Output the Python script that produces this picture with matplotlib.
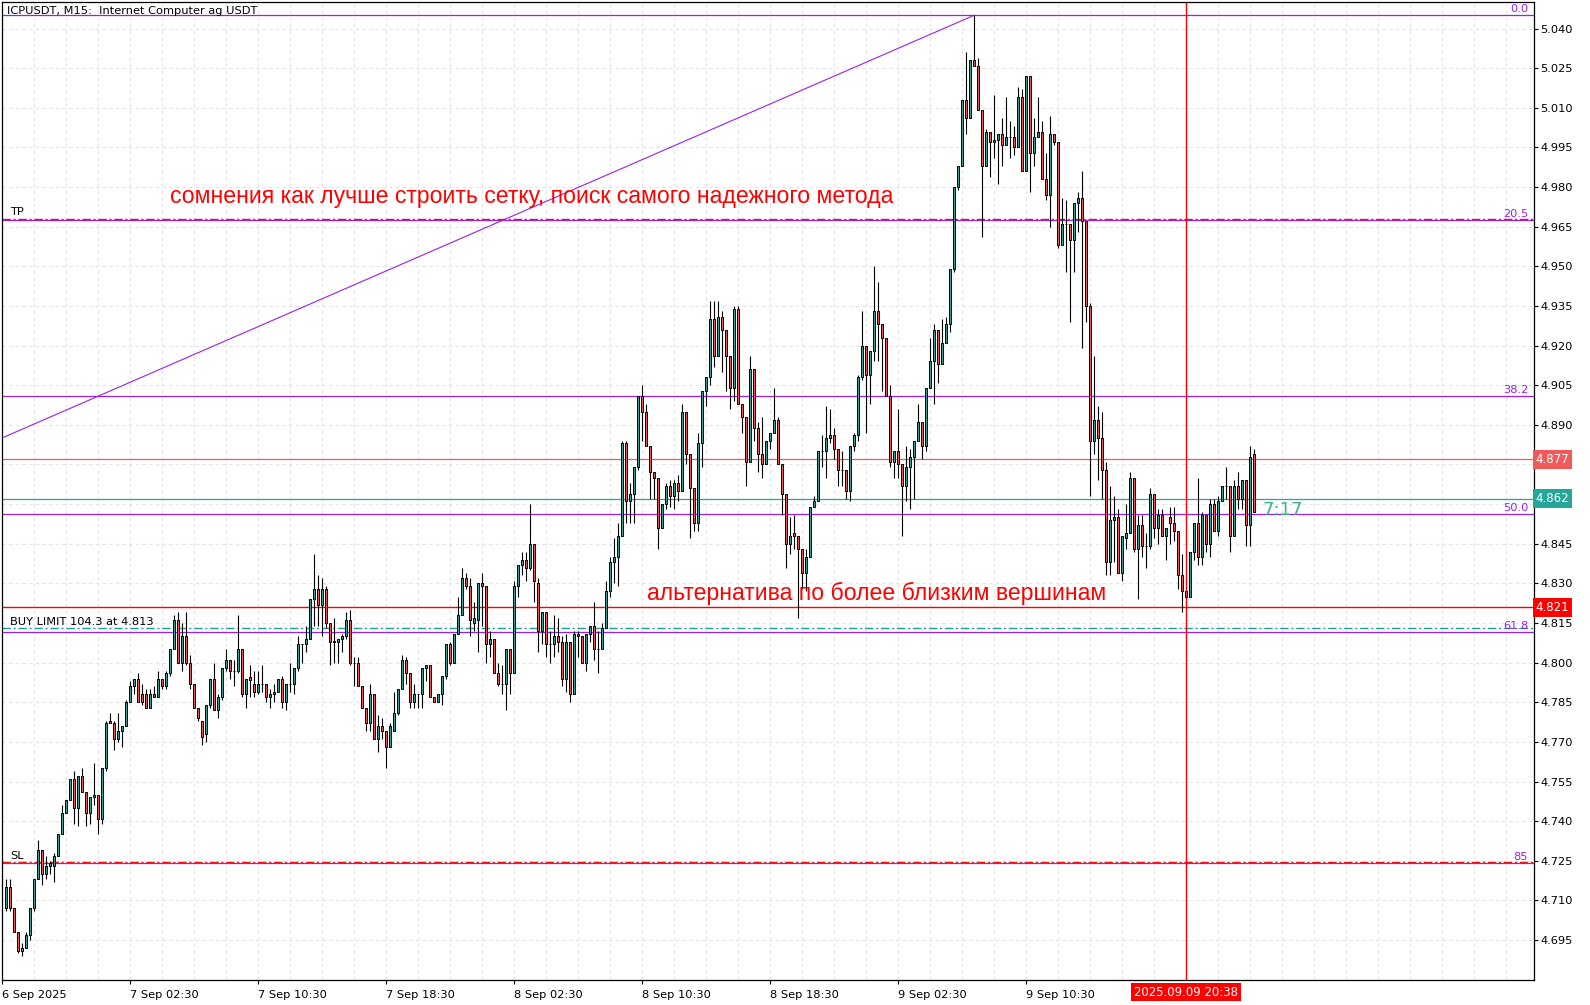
import matplotlib
matplotlib.use('Agg')
import matplotlib.pyplot as plt
import matplotlib.transforms as mtransforms
import numpy as np

# ---------------- data (M15 candles) ----------------
opens = [4.707, 4.715, 4.707, 4.698, 4.691, 4.692, 4.697, 4.707, 4.718, 4.729,
         4.720, 4.723, 4.723, 4.727, 4.735, 4.743, 4.748, 4.756, 4.745, 4.757,
         4.751, 4.743, 4.749, 4.750, 4.741, 4.760, 4.778, 4.777, 4.771, 4.774,
         4.776, 4.785, 4.791, 4.794, 4.788, 4.788, 4.783, 4.788, 4.787, 4.794,
         4.791, 4.796, 4.805, 4.816, 4.800, 4.810, 4.800, 4.792, 4.783, 4.778,
         4.773, 4.784, 4.794, 4.782, 4.787, 4.798, 4.801, 4.797, 4.797, 4.805,
         4.788, 4.7945, 4.792, 4.789, 4.792, 4.792, 4.787, 4.788, 4.789, 4.794,
         4.785, 4.792, 4.792, 4.798, 4.807, 4.807, 4.809, 4.824, 4.828, 4.822,
         4.828, 4.815, 4.808, 4.808, 4.809, 4.810, 4.816, 4.800, 4.800, 4.791,
         4.783, 4.777, 4.788, 4.771, 4.776, 4.774, 4.768, 4.774, 4.781, 4.790,
         4.801, 4.796, 4.785, 4.788, 4.788, 4.798, 4.799, 4.787, 4.785, 4.788,
         4.795, 4.807, 4.800, 4.811, 4.818, 4.832, 4.829, 4.815, 4.816, 4.830,
         4.829, 4.807, 4.809, 4.796, 4.792, 4.792, 4.805, 4.796, 4.829, 4.837,
         4.839, 4.836, 4.845, 4.830, 4.812, 4.819, 4.807, 4.807, 4.810, 4.808,
         4.794, 4.808, 4.788, 4.811, 4.810, 4.800, 4.811, 4.814, 4.805, 4.805,
         4.813, 4.827, 4.838, 4.840, 4.848, 4.883, 4.861, 4.864, 4.874, 4.901,
         4.895, 4.882, 4.872, 4.870, 4.851, 4.860, 4.867, 4.863, 4.868, 4.865,
         4.895, 4.879, 4.866, 4.853, 4.883, 4.903, 4.908, 4.930, 4.916, 4.931,
         4.926, 4.916, 4.904, 4.934, 4.898, 4.893, 4.876, 4.911, 4.889, 4.879,
         4.875, 4.884, 4.887, 4.892, 4.875, 4.864, 4.845, 4.849, 4.848, 4.843,
         4.834, 4.840, 4.859, 4.861, 4.880, 4.880, 4.885, 4.886, 4.881, 4.873,
         4.873, 4.865, 4.882, 4.886, 4.908, 4.920, 4.909, 4.918, 4.933, 4.928,
         4.923, 4.901, 4.876, 4.880, 4.875, 4.867, 4.874, 4.878, 4.884, 4.891,
         4.882, 4.904, 4.914, 4.926, 4.913, 4.921, 4.928, 4.949, 4.980, 4.988,
         5.013, 5.006, 5.028, 5.026, 5.009, 4.988, 5.001, 4.997, 4.998, 5.000,
         4.996, 4.999, 4.999, 4.995, 5.014, 4.986, 5.022, 4.993, 4.999, 5.001,
         4.983, 4.977, 5.000, 4.997, 4.958, 4.966, 4.966, 4.960, 4.974, 4.976,
         4.967, 4.935, 4.884, 4.892, 4.885, 4.873, 4.838, 4.854, 4.855, 4.834,
         4.847, 4.849, 4.870, 4.843, 4.852, 4.844, 4.844, 4.864, 4.851, 4.856,
         4.848, 4.855, 4.853, 4.850, 4.833, 4.827, 4.825, 4.842, 4.853, 4.840,
         4.856, 4.845, 4.860, 4.850, 4.861, 4.867, 4.867, 4.848, 4.867, 4.862,
         4.869, 4.852, 4.879]
highs = [4.718, 4.718, 4.707, 4.698, 4.694, 4.698, 4.707, 4.718, 4.733, 4.729,
         4.727, 4.725, 4.728, 4.735, 4.746, 4.748, 4.756, 4.759, 4.757, 4.760,
         4.751, 4.749, 4.762, 4.750, 4.760, 4.778, 4.781, 4.778, 4.781, 4.776,
         4.786, 4.793, 4.794, 4.796, 4.792, 4.790, 4.790, 4.791, 4.797, 4.794,
         4.797, 4.805, 4.818, 4.819, 4.815, 4.819, 4.803, 4.792, 4.783, 4.778,
         4.784, 4.794, 4.800, 4.788, 4.798, 4.805, 4.801, 4.801, 4.818, 4.805,
         4.794, 4.799, 4.797, 4.797, 4.799, 4.792, 4.790, 4.792, 4.794, 4.795,
         4.792, 4.800, 4.798, 4.810, 4.807, 4.814, 4.824, 4.841, 4.833, 4.832,
         4.829, 4.815, 4.817, 4.809, 4.811, 4.819, 4.820, 4.802, 4.802, 4.791,
         4.783, 4.792, 4.788, 4.780, 4.779, 4.774, 4.777, 4.789, 4.790, 4.803,
         4.802, 4.796, 4.792, 4.788, 4.798, 4.799, 4.799, 4.787, 4.788, 4.795,
         4.807, 4.808, 4.811, 4.825, 4.836, 4.834, 4.832, 4.823, 4.830, 4.834,
         4.829, 4.812, 4.809, 4.800, 4.799, 4.805, 4.805, 4.831, 4.837, 4.842,
         4.842, 4.860, 4.845, 4.832, 4.819, 4.819, 4.812, 4.818, 4.817, 4.810,
         4.811, 4.808, 4.812, 4.812, 4.810, 4.811, 4.814, 4.823, 4.812, 4.815,
         4.831, 4.840, 4.847, 4.853, 4.884, 4.884, 4.868, 4.874, 4.901, 4.905,
         4.898, 4.882, 4.872, 4.870, 4.860, 4.868, 4.869, 4.869, 4.871, 4.898,
         4.895, 4.879, 4.866, 4.887, 4.903, 4.908, 4.937, 4.937, 4.937, 4.933,
         4.926, 4.916, 4.935, 4.935, 4.898, 4.893, 4.916, 4.911, 4.891, 4.893,
         4.884, 4.887, 4.904, 4.893, 4.875, 4.864, 4.855, 4.856, 4.848, 4.843,
         4.843, 4.859, 4.863, 4.880, 4.886, 4.897, 4.896, 4.889, 4.881, 4.880,
         4.873, 4.882, 4.887, 4.909, 4.933, 4.920, 4.918, 4.950, 4.944, 4.928,
         4.923, 4.905, 4.880, 4.896, 4.875, 4.882, 4.881, 4.884, 4.898, 4.891,
         4.904, 4.923, 4.928, 4.926, 4.930, 4.931, 4.949, 4.980, 4.988, 5.013,
         5.031, 5.028, 5.045, 5.029, 5.009, 5.002, 5.001, 5.015, 5.000, 5.006,
         5.014, 5.005, 5.003, 5.018, 5.017, 5.022, 5.022, 5.006, 5.014, 5.005,
         4.993, 5.007, 5.000, 4.997, 4.976, 4.975, 4.966, 4.974, 4.978, 4.986,
         4.967, 4.936, 4.916, 4.897, 4.895, 4.876, 4.867, 4.863, 4.858, 4.848,
         4.860, 4.872, 4.870, 4.856, 4.856, 4.849, 4.866, 4.864, 4.858, 4.858,
         4.851, 4.859, 4.859, 4.850, 4.841, 4.827, 4.842, 4.853, 4.870, 4.857,
         4.856, 4.862, 4.862, 4.863, 4.867, 4.874, 4.867, 4.869, 4.872, 4.869,
         4.869, 4.882, 4.881]
lows = [4.706, 4.706, 4.698, 4.690, 4.689, 4.692, 4.695, 4.706, 4.718, 4.716,
        4.718, 4.720, 4.717, 4.727, 4.735, 4.743, 4.748, 4.739, 4.738, 4.751,
        4.738, 4.739, 4.746, 4.735, 4.739, 4.759, 4.777, 4.767, 4.770, 4.768,
        4.776, 4.785, 4.788, 4.785, 4.784, 4.783, 4.783, 4.787, 4.787, 4.790,
        4.790, 4.795, 4.805, 4.800, 4.797, 4.799, 4.790, 4.783, 4.778, 4.769,
        4.770, 4.783, 4.782, 4.779, 4.786, 4.797, 4.794, 4.791, 4.796, 4.787,
        4.783, 4.787, 4.787, 4.788, 4.789, 4.785, 4.783, 4.785, 4.789, 4.783,
        4.782, 4.789, 4.788, 4.797, 4.800, 4.804, 4.809, 4.814, 4.814, 4.810,
        4.813, 4.799, 4.800, 4.800, 4.804, 4.809, 4.799, 4.791, 4.791, 4.783,
        4.774, 4.774, 4.771, 4.766, 4.771, 4.760, 4.768, 4.774, 4.780, 4.790,
        4.792, 4.783, 4.783, 4.783, 4.783, 4.793, 4.787, 4.785, 4.785, 4.784,
        4.794, 4.799, 4.800, 4.811, 4.818, 4.828, 4.810, 4.812, 4.804, 4.814,
        4.800, 4.802, 4.796, 4.791, 4.788, 4.782, 4.788, 4.796, 4.825, 4.833,
        4.831, 4.835, 4.823, 4.804, 4.807, 4.802, 4.800, 4.802, 4.804, 4.791,
        4.789, 4.785, 4.788, 4.802, 4.800, 4.797, 4.808, 4.801, 4.796, 4.805,
        4.813, 4.825, 4.830, 4.829, 4.848, 4.853, 4.853, 4.853, 4.873, 4.884,
        4.882, 4.862, 4.862, 4.843, 4.851, 4.858, 4.859, 4.858, 4.861, 4.865,
        4.875, 4.847, 4.850, 4.850, 4.874, 4.897, 4.905, 4.912, 4.916, 4.910,
        4.903, 4.896, 4.899, 4.898, 4.887, 4.867, 4.876, 4.884, 4.872, 4.870,
        4.875, 4.881, 4.887, 4.875, 4.856, 4.836, 4.841, 4.843, 4.817, 4.828,
        4.827, 4.840, 4.859, 4.861, 4.874, 4.870, 4.883, 4.877, 4.867, 4.867,
        4.862, 4.861, 4.880, 4.884, 4.907, 4.887, 4.898, 4.914, 4.914, 4.903,
        4.901, 4.874, 4.870, 4.870, 4.848, 4.861, 4.858, 4.862, 4.884, 4.877,
        4.880, 4.904, 4.898, 4.906, 4.913, 4.921, 4.925, 4.948, 4.979, 4.988,
        5.000, 5.006, 5.026, 5.009, 4.961, 4.988, 4.984, 4.991, 4.981, 4.988,
        4.996, 4.991, 4.992, 4.995, 4.986, 4.986, 4.978, 4.988, 4.999, 4.983,
        4.975, 4.965, 4.996, 4.957, 4.958, 4.948, 4.929, 4.948, 4.963, 4.919,
        4.929, 4.863, 4.879, 4.869, 4.862, 4.833, 4.833, 4.838, 4.834, 4.831,
        4.843, 4.849, 4.842, 4.824, 4.840, 4.836, 4.843, 4.847, 4.845, 4.848,
        4.839, 4.845, 4.846, 4.828, 4.819, 4.825, 4.825, 4.839, 4.837, 4.837,
        4.842, 4.840, 4.850, 4.848, 4.861, 4.862, 4.842, 4.848, 4.858, 4.858,
        4.844, 4.844, 4.857]
closes = [4.715, 4.707, 4.698, 4.691, 4.692, 4.697, 4.707, 4.718, 4.729, 4.720,
          4.723, 4.724, 4.727, 4.735, 4.743, 4.748, 4.756, 4.745, 4.757, 4.751,
          4.743, 4.749, 4.750, 4.741, 4.760, 4.777, 4.777, 4.771, 4.774, 4.776,
          4.785, 4.791, 4.794, 4.785, 4.785, 4.783, 4.788, 4.787, 4.794, 4.791,
          4.796, 4.805, 4.816, 4.800, 4.810, 4.800, 4.792, 4.783, 4.779, 4.772,
          4.784, 4.794, 4.782, 4.787, 4.798, 4.801, 4.797, 4.797, 4.805, 4.788,
          4.794, 4.7935, 4.789, 4.792, 4.792, 4.787, 4.788, 4.789, 4.794, 4.785,
          4.792, 4.792, 4.798, 4.807, 4.807, 4.809, 4.824, 4.828, 4.822, 4.828,
          4.815, 4.808, 4.808, 4.809, 4.810, 4.816, 4.800, 4.800, 4.791, 4.783,
          4.777, 4.788, 4.771, 4.776, 4.774, 4.768, 4.776, 4.781, 4.790, 4.801,
          4.796, 4.785, 4.788, 4.788, 4.798, 4.799, 4.787, 4.785, 4.788, 4.795,
          4.807, 4.800, 4.811, 4.818, 4.832, 4.829, 4.816, 4.817, 4.830, 4.829,
          4.807, 4.809, 4.796, 4.792, 4.792, 4.805, 4.796, 4.829, 4.837, 4.839,
          4.836, 4.845, 4.831, 4.812, 4.819, 4.807, 4.807, 4.810, 4.808, 4.794,
          4.808, 4.788, 4.811, 4.810, 4.800, 4.811, 4.814, 4.805, 4.805, 4.813,
          4.827, 4.838, 4.840, 4.848, 4.883, 4.861, 4.864, 4.874, 4.901, 4.895,
          4.882, 4.872, 4.870, 4.851, 4.860, 4.867, 4.863, 4.868, 4.865, 4.895,
          4.879, 4.866, 4.853, 4.883, 4.903, 4.908, 4.930, 4.916, 4.931, 4.926,
          4.916, 4.904, 4.934, 4.898, 4.893, 4.876, 4.911, 4.889, 4.879, 4.875,
          4.884, 4.887, 4.892, 4.875, 4.864, 4.845, 4.848, 4.848, 4.843, 4.834,
          4.840, 4.859, 4.861, 4.880, 4.880, 4.885, 4.886, 4.881, 4.873, 4.873,
          4.865, 4.882, 4.886, 4.908, 4.920, 4.909, 4.918, 4.933, 4.928, 4.923,
          4.901, 4.876, 4.880, 4.875, 4.867, 4.874, 4.878, 4.884, 4.891, 4.882,
          4.904, 4.914, 4.926, 4.913, 4.921, 4.928, 4.949, 4.980, 4.988, 5.013,
          5.006, 5.028, 5.026, 5.009, 4.988, 5.001, 4.997, 4.998, 5.000, 4.996,
          4.999, 4.999, 4.995, 5.014, 4.986, 5.022, 4.993, 4.999, 5.001, 4.983,
          4.977, 5.000, 4.997, 4.958, 4.966, 4.966, 4.960, 4.974, 4.976, 4.967,
          4.935, 4.884, 4.892, 4.885, 4.873, 4.838, 4.854, 4.855, 4.834, 4.848,
          4.849, 4.870, 4.843, 4.852, 4.844, 4.844, 4.864, 4.851, 4.856, 4.848,
          4.851, 4.853, 4.850, 4.833, 4.827, 4.825, 4.842, 4.853, 4.840, 4.856,
          4.845, 4.860, 4.850, 4.861, 4.867, 4.867, 4.848, 4.867, 4.862, 4.869,
          4.852, 4.878, 4.857]

time_labels = ["6 Sep 2025", "7 Sep 02:30", "7 Sep 10:30", "7 Sep 18:30",
               "8 Sep 02:30", "8 Sep 10:30", "8 Sep 18:30", "9 Sep 02:30",
               "9 Sep 10:30"]
time_label_bars = [-1, 31, 63, 95, 127, 159, 191, 223, 255]

price_ticks = [4.695, 4.710, 4.725, 4.740, 4.755, 4.770, 4.785, 4.800, 4.815,
               4.830, 4.845, 4.860, 4.875, 4.890, 4.905, 4.920, 4.935, 4.950,
               4.965, 4.980, 4.995, 5.010, 5.025, 5.040]

fib_high, fib_low = 5.045, 4.6674
fib_levels = [0.0, 20.5, 38.2, 50.0, 61.8, 85.0]
fib_labels = ["0.0", "20.5", "38.2", "50.0", "61.8", "85"]
fib_line_start = (-331.6, 4.6674)   # anchor bars of the fibo tool
fib_line_end = (242, 5.045)

tp_price, sl_price = 4.968, 4.7245
buy_limit_price = 4.813
ask_price, bid_price, level_4821 = 4.877, 4.862, 4.821
vline_bar = 295
vline_label = "2025.09.09 20:38"

# ---------------- figure ----------------
W, H = 1590, 1005
FS = 8.2
fig = plt.figure(figsize=(W / 100, H / 100), dpi=100)
fig.patch.set_facecolor('white')
ax = fig.add_axes([2 / W, 25 / H, 1532 / W, 978 / H])
ax.set_xlim(-1, 382)
ax.set_ylim(4.67989, 5.05005)

o = np.array(opens); h = np.array(highs); l = np.array(lows); c = np.array(closes)
x = np.arange(len(o))
UP, DOWN = '#26A69A', '#EF5350'
PURPLE = '#9B1FE8'

# grid
for p in price_ticks:
    ax.axhline(p, color='#E3E3E8', lw=0.8, dashes=(3, 3), zorder=0)
for b in range(7, 382, 8):
    ax.axvline(b, color='#E3E3E8', lw=0.8, dashes=(3, 3), zorder=0)

# fibonacci
fib_prices = [fib_high - lv / 100 * (fib_high - fib_low) for lv in fib_levels]
for fp in fib_prices:
    ax.axhline(fp, color=PURPLE, lw=0.9, zorder=1)
ax.plot([fib_line_start[0], fib_line_end[0]], [fib_line_start[1], fib_line_end[1]],
        color=PURPLE, lw=0.8, zorder=1)

# order and price lines
ax.axhline(tp_price, color='#E8151B', lw=1.0, dashes=(6, 2, 1.5, 2), zorder=2)
ax.axhline(sl_price, color='#E8151B', lw=1.0, dashes=(6, 2, 1.5, 2), zorder=2)
ax.axhline(buy_limit_price, color='#1E9E8E', lw=1.0, dashes=(6, 2, 1.5, 2), zorder=2)
ax.axhline(ask_price, color='#F05A5A', lw=0.9, zorder=2)
ax.axhline(bid_price, color='#26A69A', lw=0.9, zorder=2)
ax.axhline(level_4821, color='#FF0000', lw=1.0, zorder=2)
ax.axvline(vline_bar, color='#FF0000', lw=1.0, zorder=2)

# candles
up = c >= o
ax.vlines(x, l, h, color='black', lw=0.8, zorder=3)
bot = np.minimum(o, c)
ht = np.maximum(np.abs(c - o), 1e-5)
ax.bar(x, ht, bottom=bot, width=0.62, color=np.where(up, UP, DOWN),
       edgecolor='black', linewidth=0.7, zorder=4)

# axes styling
for s in ['top', 'left', 'right', 'bottom']:
    ax.spines[s].set_color('black')
    ax.spines[s].set_linewidth(0.9)
ax.yaxis.tick_right()
ax.set_yticks(price_ticks)
ax.set_yticklabels([f"{p:.3f}" for p in price_ticks])
ax.tick_params(axis='y', length=3, width=0.8, pad=1.5, labelsize=FS, colors='black')
ax.set_xticks(time_label_bars)
ax.set_xticklabels(time_labels)
for t in ax.get_xticklabels():
    t.set_ha('left')
ax.tick_params(axis='x', length=3, width=0.8, pad=4, labelsize=FS, colors='black')

# price boxes on the right axis
def price_box(p, text, fc):
    ax.text(1.0012, p, text, transform=mtransforms.blended_transform_factory(ax.transAxes, ax.transData),
            ha='left', va='center', fontsize=FS + 0.3, color='white', zorder=10, clip_on=False,
            bbox=dict(boxstyle='square,pad=0.25', fc=fc, ec='none'))
price_box(ask_price, f"{ask_price:.3f}", '#F05A5A')
price_box(bid_price, f"{bid_price:.3f}", '#26A69A')
price_box(level_4821, f"{level_4821:.3f}", '#FF0000')

# time box for the vertical line
ax.text(vline_bar, -0.0125, vline_label,
        transform=mtransforms.blended_transform_factory(ax.transData, ax.transAxes),
        ha='center', va='center', fontsize=FS + 0.2, color='white', clip_on=False, zorder=10,
        bbox=dict(boxstyle='square,pad=0.22', fc='#FF0000', ec='none'))

# fib level labels (right aligned, above lines)
for fp, lab in zip(fib_prices, fib_labels):
    ax.text(380.5, fp + 0.0004, lab, ha='right', va='bottom', fontsize=FS, color=PURPLE, zorder=6)

# order labels
ax.text(1.0, tp_price + 0.0005, "TP", ha='left', va='bottom', fontsize=FS, color='black', zorder=6)
ax.text(1.0, sl_price + 0.0005, "SL", ha='left', va='bottom', fontsize=FS, color='black', zorder=6)
ax.text(1.0, buy_limit_price + 0.0005, "BUY LIMIT 104.3 at 4.813", ha='left', va='bottom',
        fontsize=FS, color='black', zorder=6)

# title
fig.text(7 / W, 1 - 11 / H, "ICPUSDT, M15:  Internet Computer ag USDT", ha='left', va='center',
         fontsize=FS, color='black')

# annotations
fig.text(170 / W, 1 - 196 / H, "сомнения как лучше строить сетку, поиск самого надежного метода",
         ha='left', va='center', fontsize=16.6, color='#FF0000', family='Liberation Sans')
fig.text(647 / W, 1 - 593 / H, "альтернатива по более близким вершинам",
         ha='left', va='center', fontsize=16.6, color='#FF0000', family='Liberation Sans')
fig.text(1262 / W, 1 - 510 / H, "7:17", ha='left', va='center', fontsize=13,
         color='#3CB38C', family='DejaVu Sans')

fig.savefig('out.png', dpi=100, facecolor='white')
